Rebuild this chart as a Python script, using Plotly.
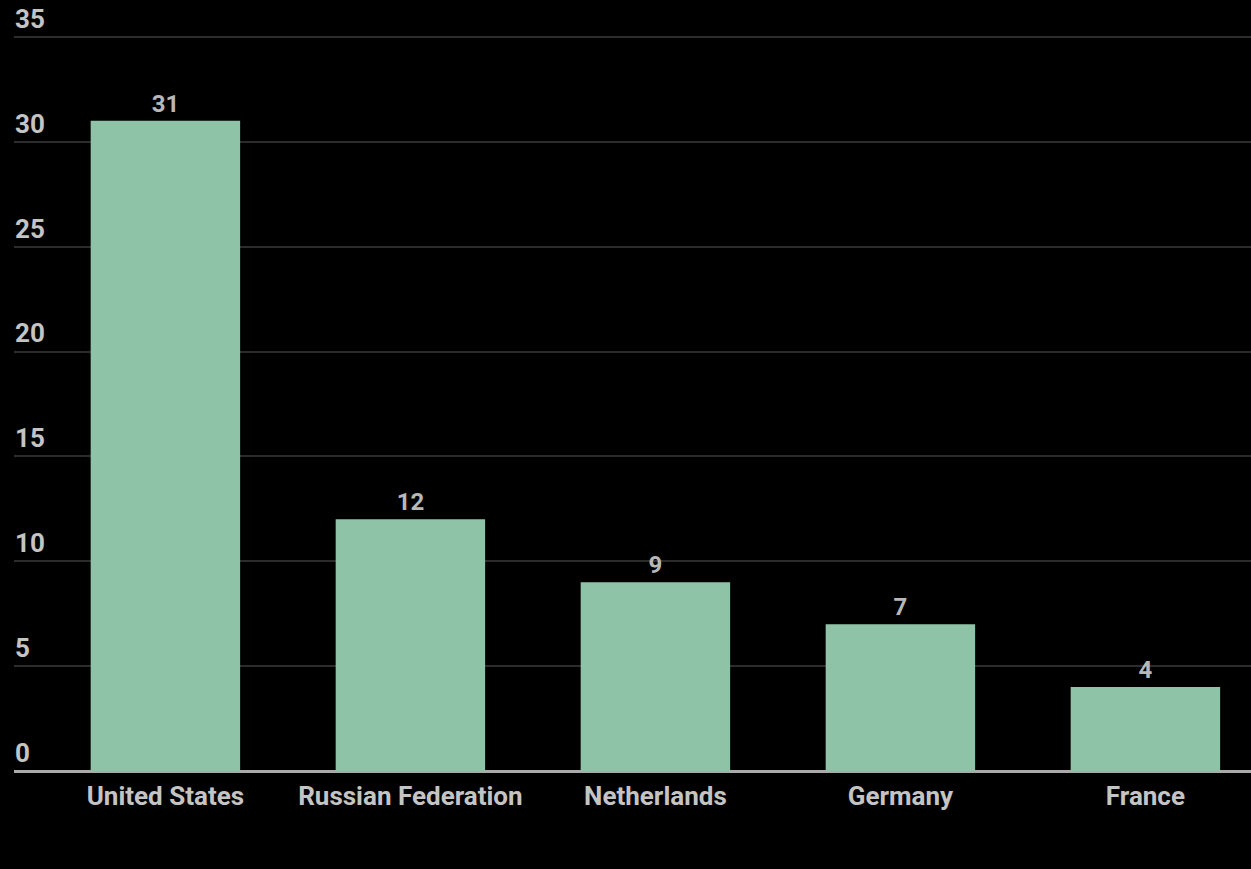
import plotly.graph_objects as go

countries = ["United States", "Russian Federation", "Netherlands", "Germany", "France"]
values = [31, 12, 9, 7, 4]
y_ticks = [0, 5, 10, 15, 20, 25, 30, 35]

fig = go.Figure(go.Bar(
    x=countries,
    y=values,
    marker=dict(color="#8ec3a7", line=dict(width=0)),
    text=[str(v) for v in values],
    textposition="outside",
    textfont=dict(family="Roboto", size=24, color="#b8b8b8", weight="bold"),
    cliponaxis=False,
))

fig.update_layout(
    width=1251, height=869,
    margin=dict(l=14, r=0, t=3, b=98),
    paper_bgcolor="#000000",
    plot_bgcolor="#000000",
    bargap=0.39,
    showlegend=False,
    font=dict(family="Roboto", color="#c4c4c4"),
)
fig.update_xaxes(
    range=[-0.618, 4.431],
    showgrid=False,
    showline=False,
    zeroline=False,
    ticks="",
    tickfont=dict(family="Roboto", size=26, color="#c4c4c4", weight="bold"),
    ticklabelstandoff=7,
)
fig.update_yaxes(
    range=[0, 36.62],
    tickvals=y_ticks,
    ticktext=[str(t) for t in y_ticks],
    showgrid=True,
    gridcolor="#2c2c2c",
    gridwidth=1.5,
    zeroline=True,
    zerolinecolor="#aaaaaa",
    zerolinewidth=3,
    showline=False,
    ticks="",
    ticklabelposition="inside top",
    ticklabelstandoff=-2,
    tickfont=dict(family="Roboto", size=26, color="#c4c4c4", weight="bold"),
)

fig.write_html("out.html")
